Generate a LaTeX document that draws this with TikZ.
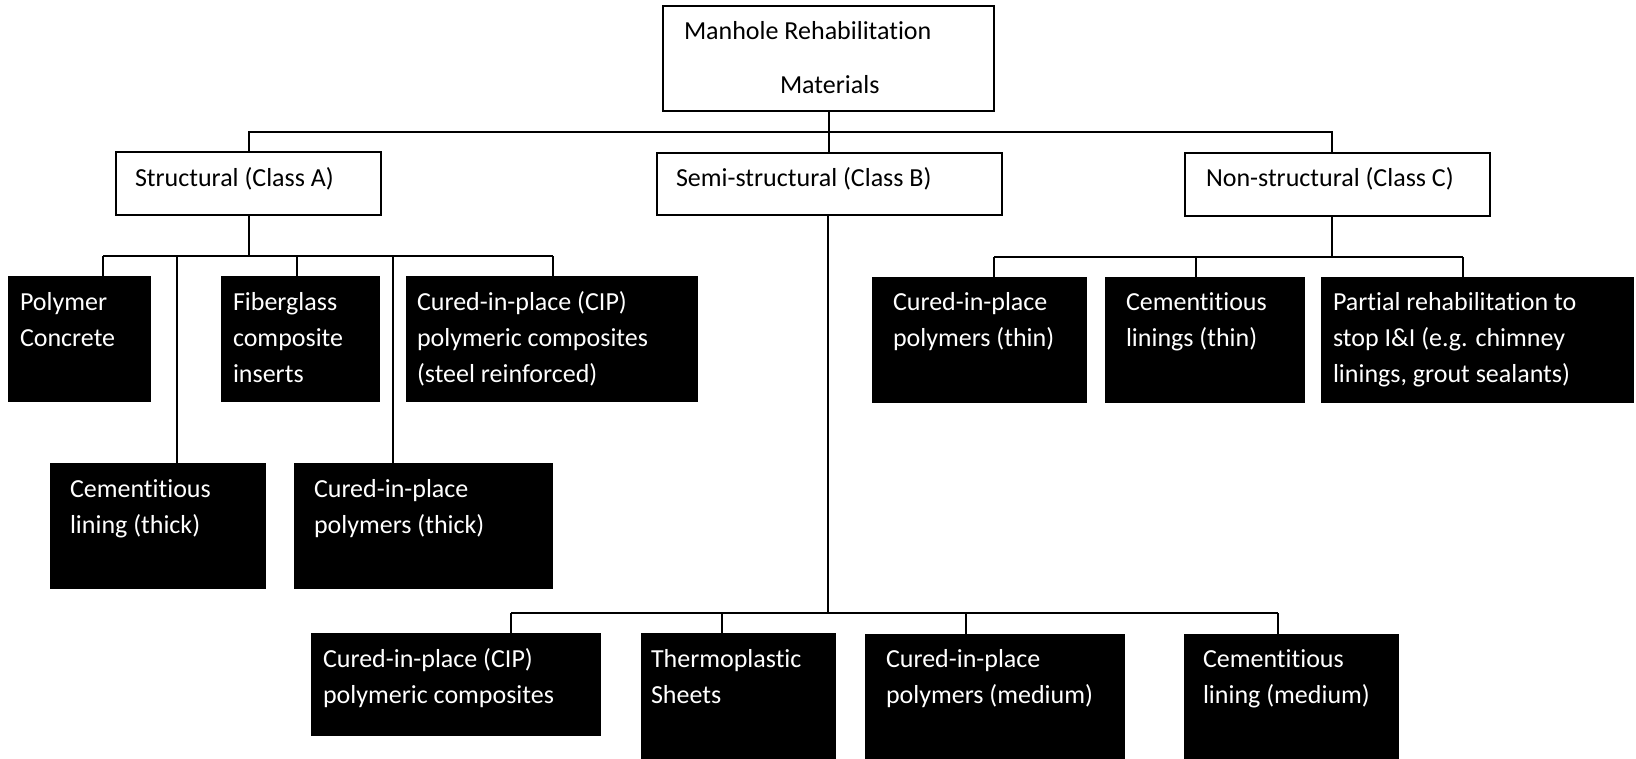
\documentclass[tikz,border=0pt]{standalone}
\usepackage{fontspec}
\setmainfont[Ligatures=NoCommon]{Carlito}
\newcommand{\stack}[1]{\begin{tabular}[t]{@{}l@{}}#1\end{tabular}}
\begin{document}
\begin{tikzpicture}[x=0.5pt,y=-0.5pt,
  every node/.style={inner sep=0pt,outer sep=0pt},
  link/.style={draw=black,line width=1pt},
  headbox/.style={draw=black,line width=1pt,fill=white,anchor=north west},
  itembox/.style={fill=black,anchor=north west},
  label/.style={anchor=base west,font=\fontsize{13}{18}\selectfont},
  itemlabel/.style={label,text=white}]
\useasboundingbox (0,0) rectangle (1636,759);

% ---- header boxes (sizes in pt: half of the coordinate units) ----
\node[headbox,minimum width=165.5pt,minimum height=52.5pt] (root) at (663,6) {};
\node[label] (rootA) at (684,40) {Manhole Rehabilitation};
\node[label] (rootB) at (780,94) {Materials};

\node[headbox,minimum width=132.5pt,minimum height=31.5pt] (classA) at (116,152) {};
\node[label] (classAt) at (135,187) {Structural (Class A)};
\node[headbox,minimum width=172.5pt,minimum height=31pt] (classB) at (657,153) {};
\node[label] (classBt) at (676,187) {Semi-structural (Class B)};
\node[headbox,minimum width=152.5pt,minimum height=31.5pt] (classC) at (1185,153) {};
\node[label] (classCt) at (1206,187) {Non-structural (Class C)};

% ---- Class A materials ----
\node[itembox,minimum width=71.5pt,minimum height=63pt] (polyconc) at (8,276) {};
\node[itemlabel] at (20,310) {\stack{Polymer\\Concrete}};
\node[itembox,minimum width=79.5pt,minimum height=63pt] (fiber) at (221,276) {};
\node[itemlabel] at (233,310) {\stack{Fiberglass\\composite\\inserts}};
\node[itembox,minimum width=146pt,minimum height=63pt] (cipsteel) at (406,276) {};
\node[itemlabel] at (417,310) {\stack{Cured-in-place (CIP)\\polymeric composites\\(steel reinforced)}};
\node[itembox,minimum width=108pt,minimum height=63pt] (cemthick) at (50,463) {};
\node[itemlabel] at (70,497) {\stack{Cementitious\\lining (thick)}};
\node[itembox,minimum width=129.5pt,minimum height=63pt] (curthick) at (294,463) {};
\node[itemlabel] at (314,497) {\stack{Cured-in-place\\polymers (thick)}};

% ---- Class C materials ----
\node[itembox,minimum width=107.5pt,minimum height=63pt] (curthin) at (872,277) {};
\node[itemlabel] at (893,310) {\stack{Cured-in-place\\polymers (thin)}};
\node[itembox,minimum width=100pt,minimum height=63pt] (cemthin) at (1105,277) {};
\node[itemlabel] at (1126,310) {\stack{Cementitious\\linings (thin)}};
\node[itembox,minimum width=156.5pt,minimum height=63pt] (partial) at (1321,277) {};
\node[itemlabel] at (1333,310) {\stack{Partial rehabilitation to\\stop I\&I (e.g. chimney\\linings, grout sealants)}};

% ---- Class B materials ----
\node[itembox,minimum width=145pt,minimum height=51.5pt] (cipbase) at (311,633) {};
\node[itemlabel] at (323,667) {\stack{Cured-in-place (CIP)\\polymeric composites}};
\node[itembox,minimum width=97.5pt,minimum height=63pt] (thermo) at (641,633) {};
\node[itemlabel] at (651,667) {\stack{Thermoplastic\\Sheets}};
\node[itembox,minimum width=130pt,minimum height=62.5pt] (curmed) at (865,634) {};
\node[itemlabel] at (886,667) {\stack{Cured-in-place\\polymers (medium)}};
\node[itembox,minimum width=107.5pt,minimum height=62.5pt] (cemmed) at (1184,634) {};
\node[itemlabel] at (1203,667) {\stack{Cementitious\\lining (medium)}};

% ---- bus junctions ----
\coordinate (topbus) at (829,132);
\coordinate (topL) at (249,132);
\coordinate (topR) at (1332,132);
\coordinate (busA) at (249,256);
\coordinate (dA1) at (103,256);
\coordinate (dA2) at (177,256);
\coordinate (dA3) at (297,256);
\coordinate (dA4) at (393,256);
\coordinate (dA5) at (553,256);
\coordinate (busC) at (1332,257);
\coordinate (dC1) at (994,257);
\coordinate (dC2) at (1196,257);
\coordinate (dC3) at (1463,257);
\coordinate (busB) at (828,613);
\coordinate (dB1) at (511,613);
\coordinate (dB2) at (722,613);
\coordinate (dB3) at (966,613);
\coordinate (dB4) at (1278,613);

% ---- connectors ----
\draw[link] (root.south -| topbus) -- (topbus);
\draw[link] (topL |- classA.north) -- (topL) -- (topR) -- (topR |- classC.north);
\draw[link] (topbus) -- (topbus |- classB.north);

\draw[link] (busA |- classA.south) -- (busA);
\draw[link] (dA1) -- (dA5);
\draw[link] (dA1) -- (dA1 |- polyconc.north);
\draw[link] (dA2) -- (dA2 |- cemthick.north);
\draw[link] (dA3) -- (dA3 |- fiber.north);
\draw[link] (dA4) -- (dA4 |- curthick.north);
\draw[link] (dA5) -- (dA5 |- cipsteel.north);

\draw[link] (busC |- classC.south) -- (busC);
\draw[link] (dC1) -- (dC3);
\draw[link] (dC1) -- (dC1 |- curthin.north);
\draw[link] (dC2) -- (dC2 |- cemthin.north);
\draw[link] (dC3) -- (dC3 |- partial.north);

\draw[link] (busB |- classB.south) -- (busB);
\draw[link] (dB1) -- (dB4);
\draw[link] (dB1) -- (dB1 |- cipbase.north);
\draw[link] (dB2) -- (dB2 |- thermo.north);
\draw[link] (dB3) -- (dB3 |- curmed.north);
\draw[link] (dB4) -- (dB4 |- cemmed.north);
\end{tikzpicture}
\end{document}
